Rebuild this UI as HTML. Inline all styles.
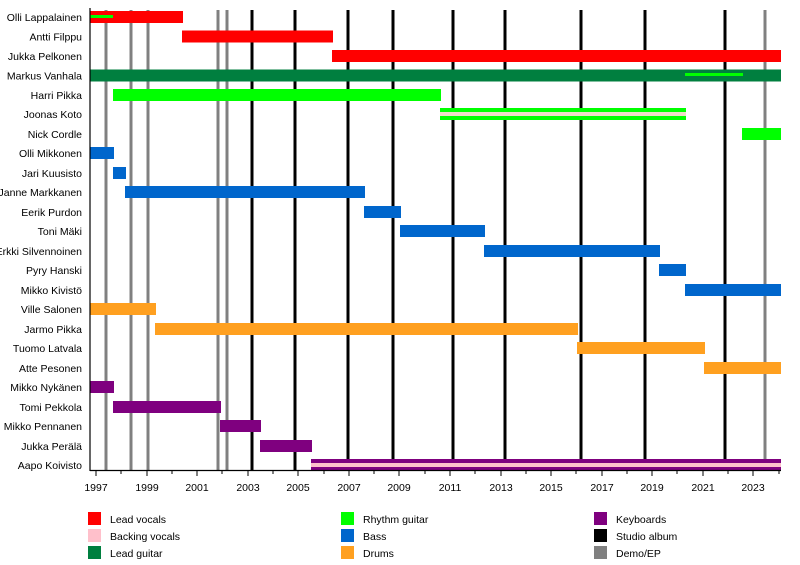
<!DOCTYPE html>
<html><head><meta charset="utf-8"><style>
body{margin:0;background:#fff;}
svg text{font-family:"Liberation Sans",sans-serif;font-size:10.5px;fill:#000;}
</style></head><body>
<svg width="800" height="560" xmlns="http://www.w3.org/2000/svg">
<g stroke-width="3">
<line x1="106" y1="10" x2="106" y2="470" stroke="#808080"/>
<line x1="131" y1="10" x2="131" y2="470" stroke="#808080"/>
<line x1="148" y1="10" x2="148" y2="470" stroke="#808080"/>
<line x1="218" y1="10" x2="218" y2="470" stroke="#808080"/>
<line x1="227" y1="10" x2="227" y2="470" stroke="#808080"/>
<line x1="252" y1="10" x2="252" y2="470" stroke="#000"/>
<line x1="295" y1="10" x2="295" y2="470" stroke="#000"/>
<line x1="348" y1="10" x2="348" y2="470" stroke="#000"/>
<line x1="393" y1="10" x2="393" y2="470" stroke="#000"/>
<line x1="453" y1="10" x2="453" y2="470" stroke="#000"/>
<line x1="505" y1="10" x2="505" y2="470" stroke="#000"/>
<line x1="581" y1="10" x2="581" y2="470" stroke="#000"/>
<line x1="645" y1="10" x2="645" y2="470" stroke="#000"/>
<line x1="725" y1="10" x2="725" y2="470" stroke="#000"/>
<line x1="765" y1="10" x2="765" y2="470" stroke="#808080"/>
</g>
<g>
<rect x="90" y="11" width="93" height="12" fill="#ff0000"/>
<rect x="90" y="15" width="23" height="3" fill="#00ff00"/>
<rect x="182" y="30.5" width="151" height="12" fill="#ff0000"/>
<rect x="332" y="50" width="449" height="12" fill="#ff0000"/>
<rect x="90" y="69.5" width="691" height="12" fill="#007f3f"/>
<rect x="685" y="73" width="58" height="3" fill="#00ff00"/>
<rect x="113" y="89" width="328" height="12" fill="#00ff00"/>
<rect x="440" y="108" width="246" height="12" fill="#00ff00"/>
<rect x="440" y="112" width="246" height="4" fill="#f0dcc8"/>
<rect x="742" y="128" width="39" height="12" fill="#00ff00"/>
<rect x="90" y="147" width="24" height="12" fill="#0066cc"/>
<rect x="113" y="167" width="13" height="12" fill="#0066cc"/>
<rect x="125" y="186" width="240" height="12" fill="#0066cc"/>
<rect x="364" y="206" width="37" height="12" fill="#0066cc"/>
<rect x="400" y="225" width="85" height="12" fill="#0066cc"/>
<rect x="484" y="245" width="176" height="12" fill="#0066cc"/>
<rect x="659" y="264" width="27" height="12" fill="#0066cc"/>
<rect x="685" y="284" width="96" height="12" fill="#0066cc"/>
<rect x="90" y="303" width="66" height="12" fill="#ffa020"/>
<rect x="155" y="323" width="423" height="12" fill="#ffa020"/>
<rect x="577" y="342" width="128" height="12" fill="#ffa020"/>
<rect x="704" y="362" width="77" height="12" fill="#ffa020"/>
<rect x="90" y="381" width="24" height="12" fill="#7f007f"/>
<rect x="113" y="401" width="108" height="12" fill="#7f007f"/>
<rect x="220" y="420" width="41" height="12" fill="#7f007f"/>
<rect x="260" y="440" width="52" height="12" fill="#7f007f"/>
<rect x="311" y="459" width="470" height="11" fill="#7f007f"/>
<rect x="311" y="463" width="470" height="4" fill="#ffc0cb"/>
</g>
<line x1="90" y1="8" x2="90" y2="471" stroke="#000" stroke-width="1.2"/>
<line x1="90" y1="470.5" x2="781" y2="470.5" stroke="#000" stroke-width="1.2"/>
<g stroke="#000" stroke-width="1">
<line x1="96" y1="471" x2="96" y2="476"/><line x1="121" y1="471" x2="121" y2="474"/>
<line x1="147" y1="471" x2="147" y2="476"/><line x1="172" y1="471" x2="172" y2="474"/>
<line x1="197" y1="471" x2="197" y2="476"/><line x1="222" y1="471" x2="222" y2="474"/>
<line x1="248" y1="471" x2="248" y2="476"/><line x1="273" y1="471" x2="273" y2="474"/>
<line x1="298" y1="471" x2="298" y2="476"/><line x1="324" y1="471" x2="324" y2="474"/>
<line x1="349" y1="471" x2="349" y2="476"/><line x1="374" y1="471" x2="374" y2="474"/>
<line x1="399" y1="471" x2="399" y2="476"/><line x1="425" y1="471" x2="425" y2="474"/>
<line x1="450" y1="471" x2="450" y2="476"/><line x1="475" y1="471" x2="475" y2="474"/>
<line x1="501" y1="471" x2="501" y2="476"/><line x1="526" y1="471" x2="526" y2="474"/>
<line x1="551" y1="471" x2="551" y2="476"/><line x1="576" y1="471" x2="576" y2="474"/>
<line x1="602" y1="471" x2="602" y2="476"/><line x1="627" y1="471" x2="627" y2="474"/>
<line x1="652" y1="471" x2="652" y2="476"/><line x1="677" y1="471" x2="677" y2="474"/>
<line x1="703" y1="471" x2="703" y2="476"/><line x1="728" y1="471" x2="728" y2="474"/>
<line x1="753" y1="471" x2="753" y2="476"/><line x1="779" y1="471" x2="779" y2="474"/>
</g>
<g text-anchor="middle">
<text x="96" y="491">1997</text><text x="147" y="491">1999</text><text x="197" y="491">2001</text>
<text x="248" y="491">2003</text><text x="298" y="491">2005</text><text x="349" y="491">2007</text>
<text x="399" y="491">2009</text><text x="450" y="491">2011</text><text x="501" y="491">2013</text>
<text x="551" y="491">2015</text><text x="602" y="491">2017</text><text x="652" y="491">2019</text>
<text x="703" y="491">2021</text><text x="753" y="491">2023</text>
</g>
<g text-anchor="end">
<text x="82" y="21">Olli Lappalainen</text>
<text x="82" y="40.5">Antti Filppu</text>
<text x="82" y="60">Jukka Pelkonen</text>
<text x="82" y="79.5">Markus Vanhala</text>
<text x="82" y="99">Harri Pikka</text>
<text x="82" y="118">Joonas Koto</text>
<text x="82" y="138">Nick Cordle</text>
<text x="82" y="157">Olli Mikkonen</text>
<text x="82" y="177">Jari Kuusisto</text>
<text x="82" y="196">Janne Markkanen</text>
<text x="82" y="216">Eerik Purdon</text>
<text x="82" y="235">Toni Mäki</text>
<text x="82" y="255">Erkki Silvennoinen</text>
<text x="82" y="274">Pyry Hanski</text>
<text x="82" y="294">Mikko Kivistö</text>
<text x="82" y="313">Ville Salonen</text>
<text x="82" y="333">Jarmo Pikka</text>
<text x="82" y="352">Tuomo Latvala</text>
<text x="82" y="372">Atte Pesonen</text>
<text x="82" y="391">Mikko Nykänen</text>
<text x="82" y="411">Tomi Pekkola</text>
<text x="82" y="430">Mikko Pennanen</text>
<text x="82" y="450">Jukka Perälä</text>
<text x="82" y="469">Aapo Koivisto</text>
</g>
<g>
<rect x="88" y="512" width="13" height="13" fill="#ff0000"/><text x="110" y="523">Lead vocals</text>
<rect x="88" y="529" width="13" height="13" fill="#ffc0cb"/><text x="110" y="540">Backing vocals</text>
<rect x="88" y="546" width="13" height="13" fill="#007f3f"/><text x="110" y="557">Lead guitar</text>
<rect x="341" y="512" width="13" height="13" fill="#00ff00"/><text x="363" y="523">Rhythm guitar</text>
<rect x="341" y="529" width="13" height="13" fill="#0066cc"/><text x="363" y="540">Bass</text>
<rect x="341" y="546" width="13" height="13" fill="#ffa020"/><text x="363" y="557">Drums</text>
<rect x="594" y="512" width="13" height="13" fill="#7f007f"/><text x="616" y="523">Keyboards</text>
<rect x="594" y="529" width="13" height="13" fill="#000"/><text x="616" y="540">Studio album</text>
<rect x="594" y="546" width="13" height="13" fill="#808080"/><text x="616" y="557">Demo/EP</text>
</g>
</svg>
</body></html>
